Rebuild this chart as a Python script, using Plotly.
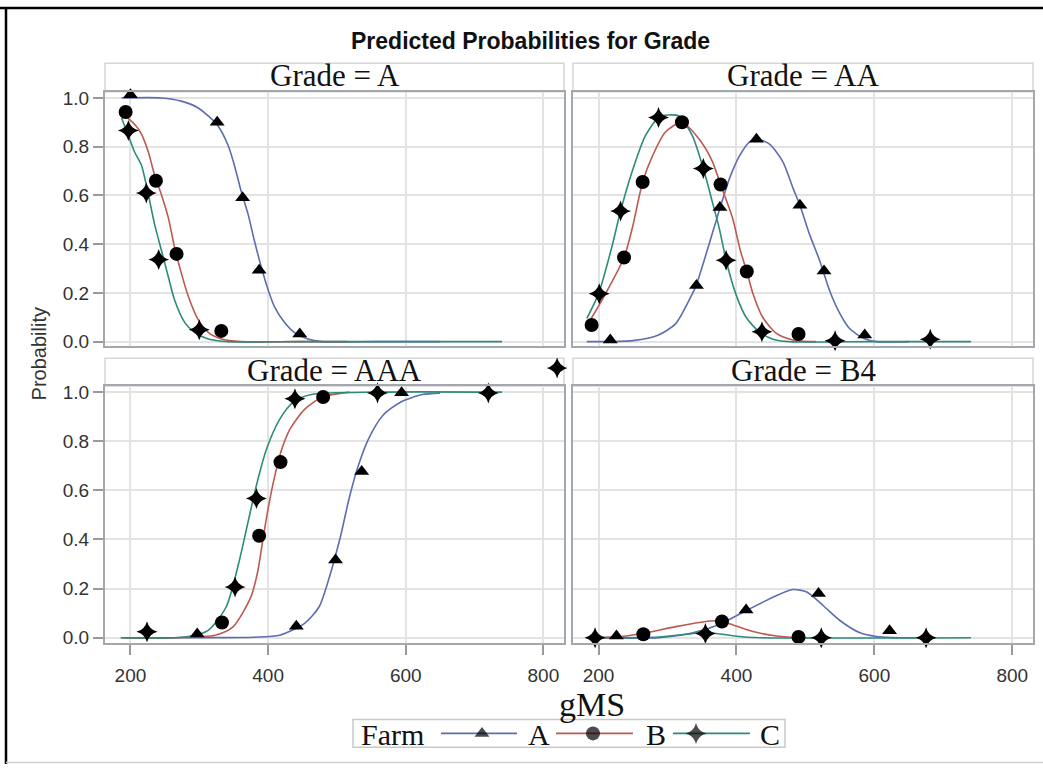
import plotly.graph_objects as go

W, H = 1043, 770

# ---------------- data ----------------
farms = ["A", "B", "C"]
grades = ["A", "AA", "AAA", "B4"]

# Grade = A : fitted curves
gA_curve_A_x = [187, 245, 274, 298, 313, 327, 342, 351, 361, 371, 380, 390, 400, 409, 424, 438, 458, 477, 560, 650]
gA_curve_A_y = [1.0, 1.0, 0.987, 0.96, 0.926, 0.886, 0.805, 0.724, 0.616, 0.522, 0.415, 0.307, 0.213, 0.145, 0.078, 0.038, 0.011, 0.0, 0.0, 0.0]
gA_curve_B_x = [192, 206, 216, 226, 235, 245, 255, 264, 274, 284, 298, 313, 332, 361, 440, 515]
gA_curve_B_y = [0.926, 0.892, 0.852, 0.778, 0.684, 0.603, 0.509, 0.388, 0.28, 0.186, 0.092, 0.038, 0.011, 0.0, 0.0, 0.0]
gA_curve_C_x = [187, 197, 206, 216, 226, 235, 245, 255, 264, 279, 293, 313, 342, 450, 600, 740]
gA_curve_C_y = [0.919, 0.845, 0.778, 0.724, 0.603, 0.482, 0.374, 0.266, 0.172, 0.078, 0.038, 0.011, 0.0, 0.0, 0.0, 0.0]
# Grade = A : observed points
gA_pts_A_x = [200, 326, 363, 387, 446]
gA_pts_A_y = [1.013, 0.90, 0.59, 0.293, 0.031]
gA_pts_B_x = [193, 237, 267, 332]
gA_pts_B_y = [0.942, 0.66, 0.36, 0.044]
gA_pts_C_x = [197, 223, 241, 300]
gA_pts_C_y = [0.866, 0.61, 0.337, 0.049]

# Grade = AA
gAA_curve_A_x = [183, 250, 287, 312, 336, 342, 355, 376, 390, 404, 419, 431, 448, 467, 482, 492, 506, 521, 535, 550, 564, 584, 603, 650]
gAA_curve_A_y = [0.0, 0.004, 0.027, 0.074, 0.196, 0.234, 0.35, 0.547, 0.67, 0.76, 0.82, 0.83, 0.81, 0.74, 0.63, 0.56, 0.44, 0.33, 0.21, 0.115, 0.054, 0.014, 0.0, 0.0]
gAA_curve_B_x = [185, 205, 237, 249, 264, 278, 297, 321, 346, 365, 377, 394, 406, 415, 424, 438, 458, 482, 506, 515]
gAA_curve_B_y = [0.074, 0.17, 0.345, 0.466, 0.655, 0.76, 0.86, 0.90, 0.83, 0.74, 0.645, 0.51, 0.37, 0.288, 0.196, 0.10, 0.034, 0.007, 0.0, 0.0]
gAA_curve_C_x = [183, 200, 219, 232, 249, 268, 287, 301, 317, 336, 352, 365, 375, 385, 399, 414, 433, 453, 477, 600, 740]
gAA_curve_C_y = [0.095, 0.196, 0.385, 0.536, 0.70, 0.845, 0.92, 0.93, 0.925, 0.845, 0.71, 0.574, 0.466, 0.334, 0.196, 0.10, 0.04, 0.01, 0.0, 0.0, 0.0]
gAA_pts_A_x = [217, 342, 376, 429, 492, 527, 586]
gAA_pts_A_y = [0.007, 0.23, 0.55, 0.83, 0.56, 0.29, 0.027]
gAA_pts_B_x = [190, 237, 264, 321, 377, 415, 490]
gAA_pts_B_y = [0.068, 0.345, 0.655, 0.90, 0.645, 0.288, 0.031]
gAA_pts_C_x = [201, 232, 287, 352, 385, 437, 543, 681]
gAA_pts_C_y = [0.196, 0.536, 0.92, 0.71, 0.334, 0.04, 0.004, 0.01]

# Grade = AAA
gAAA_curve_A_x = [186, 300, 380, 417, 453, 474, 489, 505, 518, 531, 546, 567, 593, 624, 650]
gAAA_curve_A_y = [0.0, 0.0, 0.002, 0.01, 0.058, 0.125, 0.246, 0.41, 0.57, 0.70, 0.81, 0.906, 0.96, 0.99, 0.996]
gAAA_curve_B_x = [190, 266, 323, 349, 375, 385, 393, 401, 409, 419, 432, 453, 479, 518]
gAAA_curve_B_y = [0.0, 0.0, 0.01, 0.044, 0.166, 0.27, 0.41, 0.54, 0.65, 0.76, 0.85, 0.93, 0.98, 1.0]
gAAA_curve_C_x = [186, 282, 313, 339, 357, 370, 383, 398, 417, 437, 463, 560, 740]
gAAA_curve_C_y = [0.0, 0.004, 0.03, 0.125, 0.30, 0.46, 0.62, 0.77, 0.89, 0.96, 0.99, 1.0, 1.0]
gAAA_pts_A_x = [297, 441, 498, 536, 594]
gAAA_pts_A_y = [0.015, 0.047, 0.316, 0.677, 0.997]
gAAA_pts_B_x = [333, 387, 418, 480]
gAAA_pts_B_y = [0.062, 0.415, 0.715, 0.98]
gAAA_pts_C_x = [224, 352, 383, 439, 559, 720]
gAAA_pts_C_y = [0.024, 0.206, 0.567, 0.973, 0.996, 0.996]
# one observed point drawn above the panel's axis range
gAAA_out_C_x = [820]
gAAA_out_C_y = [1.098]

# Grade = B4
gB4_curve_A_x = [186, 288, 337, 376, 414, 453, 482, 502, 526, 550, 579, 603, 637, 660]
gB4_curve_A_y = [0.0, 0.0, 0.02, 0.055, 0.11, 0.165, 0.196, 0.186, 0.13, 0.07, 0.02, 0.005, 0.0, 0.0]
gB4_curve_B_x = [190, 240, 269, 312, 346, 371, 395, 424, 458, 492, 515]
gB4_curve_B_y = [0.0, 0.007, 0.02, 0.045, 0.062, 0.069, 0.052, 0.025, 0.007, 0.0, 0.0]
gB4_curve_C_x = [186, 288, 327, 351, 371, 400, 434, 740]
gB4_curve_C_y = [0.0, 0.003, 0.014, 0.02, 0.017, 0.006, 0.0, 0.0]
gB4_pts_A_x = [226, 414, 519, 622]
gB4_pts_A_y = [0.007, 0.113, 0.18, 0.028]
gB4_pts_B_x = [265, 379, 490]
gB4_pts_B_y = [0.014, 0.066, 0.003]
gB4_pts_C_x = [195, 355, 523, 675]
gB4_pts_C_y = [0.0, 0.017, 0.0, 0.0]

x_ticks = [200, 400, 600, 800]
y_ticks = [0.0, 0.2, 0.4, 0.6, 0.8, 1.0]

# ---------------- styling ----------------
line_colors = {"A": "#5d6db0", "B": "#bb5a51", "C": "#2d8c79"}
symbols = {"A": "triangle-up", "B": "circle", "C": "star-diamond"}
msizes = {"A": 13, "B": 14, "C": 15}

panel_data = {
    "A": {"curve": {"A": (gA_curve_A_x, gA_curve_A_y), "B": (gA_curve_B_x, gA_curve_B_y), "C": (gA_curve_C_x, gA_curve_C_y)},
          "pts": {"A": (gA_pts_A_x, gA_pts_A_y), "B": (gA_pts_B_x, gA_pts_B_y), "C": (gA_pts_C_x, gA_pts_C_y)}},
    "AA": {"curve": {"A": (gAA_curve_A_x, gAA_curve_A_y), "B": (gAA_curve_B_x, gAA_curve_B_y), "C": (gAA_curve_C_x, gAA_curve_C_y)},
           "pts": {"A": (gAA_pts_A_x, gAA_pts_A_y), "B": (gAA_pts_B_x, gAA_pts_B_y), "C": (gAA_pts_C_x, gAA_pts_C_y)}},
    "AAA": {"curve": {"A": (gAAA_curve_A_x, gAAA_curve_A_y), "B": (gAAA_curve_B_x, gAAA_curve_B_y), "C": (gAAA_curve_C_x, gAAA_curve_C_y)},
            "pts": {"A": (gAAA_pts_A_x, gAAA_pts_A_y), "B": (gAAA_pts_B_x, gAAA_pts_B_y), "C": (gAAA_pts_C_x, gAAA_pts_C_y)}},
    "B4": {"curve": {"A": (gB4_curve_A_x, gB4_curve_A_y), "B": (gB4_curve_B_x, gB4_curve_B_y), "C": (gB4_curve_C_x, gB4_curve_C_y)},
           "pts": {"A": (gB4_pts_A_x, gB4_pts_A_y), "B": (gB4_pts_B_x, gB4_pts_B_y), "C": (gB4_pts_C_x, gB4_pts_C_y)}},
}


def px(x):
    return x / W


def py(y):
    return 1 - y / H


# panel pixel boxes (left, right), (top, bottom, header top)
cols = [(105, 564), (573, 1033)]
rows = [(89, 347, 60), (387, 647, 359)]
layout_pos = {"A": (0, 0), "AA": (0, 1), "AAA": (1, 0), "B4": (1, 1)}
x_range = [163, 830]
y_range = [-0.02, 1.025]

fig = go.Figure()
layout = dict(
    width=W, height=H, margin=dict(l=0, r=0, t=0, b=0),
    paper_bgcolor="white", plot_bgcolor="rgba(0,0,0,0)", showlegend=False,
)
shapes = []
annotations = []

tickfont = dict(family="Liberation Sans, Arial, sans-serif", size=19, color="#333333")
frame_col = "#a3a8ae"
grid_col = "#e3e3e3"
serif_family = "Liberation Serif, Times New Roman, serif"

for i, g in enumerate(grades):
    r, c = layout_pos[g]
    n = i + 1
    xa = "xaxis" if n == 1 else f"xaxis{n}"
    ya = "yaxis" if n == 1 else f"yaxis{n}"
    xref = "x" if n == 1 else f"x{n}"
    yref = "y" if n == 1 else f"y{n}"
    l, rr = cols[c]
    t, b, ht = rows[r]
    layout[xa] = dict(
        domain=[px(l), px(rr)], anchor=yref, range=x_range,
        tickvals=x_ticks, showgrid=True, gridcolor=grid_col, gridwidth=1.5,
        zeroline=False, showline=True, linecolor=frame_col, linewidth=2, mirror=True,
        ticks="outside" if r == 1 else "", ticklen=10, tickwidth=1.5, tickcolor="#9a9a9a",
        showticklabels=(r == 1), tickfont=tickfont, ticklabelstandoff=5,
    )
    layout[ya] = dict(
        domain=[py(b), py(t)], anchor=xref, range=y_range,
        tickvals=y_ticks, tickformat=".1f", showgrid=True, gridcolor=grid_col, gridwidth=1.5,
        zeroline=False, showline=True, linecolor=frame_col, linewidth=2, mirror=True,
        ticks="outside" if c == 0 else "", ticklen=10, tickwidth=1.5, tickcolor="#9a9a9a",
        showticklabels=(c == 0), tickfont=tickfont,
    )
    # header strip
    shapes.append(dict(type="rect", xref="paper", yref="paper", x0=px(l), x1=px(rr),
                       y0=py(t), y1=py(ht), line=dict(color="#d6d6d6", width=1.5), layer="below"))
    annotations.append(dict(text=f"Grade = {g}", xref="paper", yref="paper",
                            x=px((l + rr) / 2), y=py((ht + t) / 2 - 2), xanchor="center", yanchor="middle",
                            showarrow=False,
                            font=dict(family=serif_family, size=31, color="#111111")))
    for f in farms:
        cx, cy = panel_data[g]["curve"][f]
        fig.add_trace(go.Scatter(x=cx, y=cy, mode="lines", xaxis=xref, yaxis=yref,
                                 line=dict(color=line_colors[f], width=1.6, shape="spline", smoothing=0.7),
                                 hoverinfo="skip"))
    for f in farms:
        mx, my = panel_data[g]["pts"][f]
        fig.add_trace(go.Scatter(x=mx, y=my, mode="markers", xaxis=xref, yaxis=yref, cliponaxis=False,
                                 marker=dict(symbol=symbols[f], size=msizes[f], color="black",
                                             line=dict(width=0))))

# extended overlay of the AAA panel (same scale) for the point above its range
t, b, ht = rows[1]
l, rr = cols[0]
y_per_px = (y_range[1] - y_range[0]) / (b - t)
layout["xaxis6"] = dict(domain=[px(l), px(rr)], range=x_range, anchor="y6", visible=False, overlaying="x3")
layout["yaxis6"] = dict(domain=[py(b), py(ht)], range=[y_range[0], y_range[0] + (b - ht) * y_per_px],
                        anchor="x6", visible=False)
fig.add_trace(go.Scatter(x=gAAA_out_C_x, y=gAAA_out_C_y, mode="markers", xaxis="x6", yaxis="y6",
                         cliponaxis=False,
                         marker=dict(symbol=symbols["C"], size=msizes["C"], color="black", line=dict(width=0))))

# title
annotations.append(dict(text="<b>Predicted Probabilities for Grade</b>", xref="paper", yref="paper",
                        x=px(530), y=py(37), xanchor="center", yanchor="middle", showarrow=False,
                        font=dict(family="Liberation Sans, Arial, sans-serif", size=23, color="#111111")))
# axis titles
annotations.append(dict(text="Probability", xref="paper", yref="paper", x=px(39), y=py(355),
                        xanchor="center", yanchor="middle", textangle=-90, showarrow=False,
                        font=dict(family="Liberation Sans, Arial, sans-serif", size=20, color="#333333")))
annotations.append(dict(text="gMS", xref="paper", yref="paper", x=px(592), y=py(710),
                        xanchor="center", yanchor="middle", showarrow=False,
                        font=dict(family=serif_family, size=34, color="#111111")))

# manual legend
leg_y = 739
serif = dict(family=serif_family, size=30, color="#111111")
shapes.append(dict(type="rect", xref="paper", yref="paper", x0=px(353), x1=px(785), y0=py(753), y1=py(725),
                   line=dict(color="#c9c9c9", width=1.5), layer="below"))
annotations.append(dict(text="Farm", xref="paper", yref="paper", x=px(359), y=py(leg_y + 1), xanchor="left",
                        yanchor="middle", showarrow=False, font=serif))
leg_items = [("A", 441, 517, 482, 526), ("B", 556, 633, 593, 644), ("C", 673, 750, 696, 758)]
leg_mx, leg_my, leg_sym, leg_sz = [], [], [], []
for f, x0, x1, mxp, tx in leg_items:
    shapes.append(dict(type="line", xref="paper", yref="paper", x0=px(x0), x1=px(x1), y0=py(leg_y), y1=py(leg_y),
                       line=dict(color=line_colors[f], width=1.6), layer="below"))
    annotations.append(dict(text=f, xref="paper", yref="paper", x=px(tx), y=py(leg_y + 1), xanchor="left",
                            yanchor="middle", showarrow=False, font=serif))
    leg_mx.append(mxp)
    leg_my.append(leg_y)
    leg_sym.append(symbols[f])
    leg_sz.append(msizes[f])
layout["xaxis5"] = dict(domain=[0, 1], range=[0, W], visible=False, anchor="y5", fixedrange=True)
layout["yaxis5"] = dict(domain=[0, 1], range=[H, 0], visible=False, anchor="x5", fixedrange=True)
fig.add_trace(go.Scatter(x=leg_mx, y=leg_my, mode="markers", xaxis="x5", yaxis="y5",
                         marker=dict(symbol=leg_sym, size=leg_sz, color="black", line=dict(width=0)),
                         hoverinfo="skip"))

# outer frame
shapes.append(dict(type="line", xref="paper", yref="paper", x0=0, x1=1, y0=py(4), y1=py(4),
                   line=dict(color="black", width=2.5)))
shapes.append(dict(type="line", xref="paper", yref="paper", x0=px(6), x1=px(6), y0=py(4), y1=0,
                   line=dict(color="black", width=2.5)))
shapes.append(dict(type="line", xref="paper", yref="paper", x0=px(6), x1=1, y0=py(768.5), y1=py(768.5),
                   line=dict(color="#cfcfcf", width=1.5)))

layout["shapes"] = shapes
layout["annotations"] = annotations
fig.update_layout(**layout)
fig.write_html("out.html")
